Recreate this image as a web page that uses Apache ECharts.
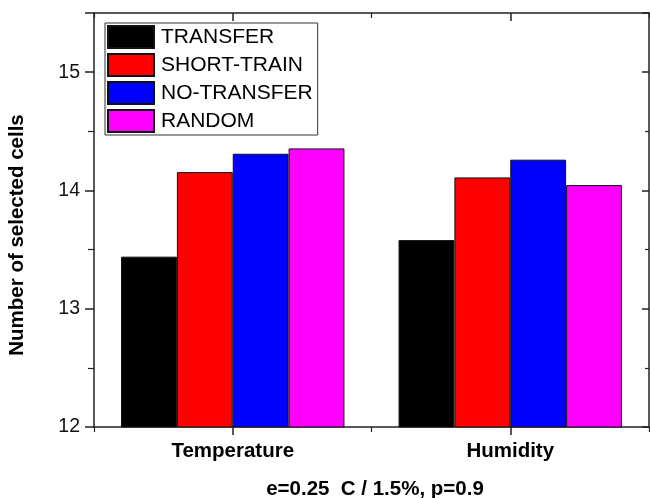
<!DOCTYPE html>
<html>
<head>
<meta charset="utf-8">
<script src="https://cdn.jsdelivr.net/npm/echarts@6/dist/echarts.min.js"></script>
<style>
html,body{margin:0;padding:0;background:#fff;}
#chart{width:650px;height:498px;}
</style>
</head>
<body>
<div id="chart"></div>
<script>
const categories = ['Temperature', 'Humidity'];
const seriesNames = ['TRANSFER', 'SHORT-TRAIN', 'NO-TRANSFER', 'RANDOM'];
const transfer = [13.44, 13.58];
const shortTrain = [14.155, 14.11];
const noTransfer = [14.31, 14.26];
const randomSel = [14.355, 14.045];
const seriesValues = [transfer, shortTrain, noTransfer, randomSel];
const seriesColors = ['#000000', '#ff0000', '#0000ff', '#ff00ff'];
const yMin = 12, yMax = 15.5, yInterval = 1;
const yTitle = 'Number of selected cells';
const xTitle = 'e=0.25  C / 1.5%, p=0.9';

const FONT = 'Liberation Sans, Arial, sans-serif';
const AX = '#222';

const chart = echarts.init(document.getElementById('chart'), null, {renderer: 'canvas'});

const series = seriesNames.map((n, i) => ({
  name: n,
  type: 'bar',
  xAxisIndex: 0,
  yAxisIndex: 0,
  data: seriesValues[i],
  barGap: '0%',
  barCategoryGap: '19.5%',
  itemStyle: {color: seriesColors[i], borderColor: '#111', borderWidth: 1},
  emphasis: {disabled: true},
  animation: false
}));

const baseX = {
  type: 'category',
  data: categories,
  axisLine: {show: true, lineStyle: {color: AX, width: 1.5}},
  splitLine: {show: false},
  axisLabel: {show: false}
};

const option = {
  backgroundColor: '#fff',
  animation: false,
  grid: {left: 94, right: 1, top: 13, bottom: 71, containLabel: false},
  legend: {
    orient: 'vertical',
    left: 105,
    top: 23,
    itemWidth: 46,
    itemHeight: 22,
    itemGap: 4,
    icon: 'rect',
    borderColor: '#333',
    borderWidth: 1,
    padding: [2, 5, 2, 2],
    backgroundColor: '#fff',
    textStyle: {fontFamily: FONT, fontSize: 21, color: '#000', padding: [0, 0, 0, 2]},
    data: seriesNames
  },
  xAxis: [
    Object.assign({}, baseX, {
      position: 'bottom',
      axisTick: {show: true, alignWithLabel: true, length: 8, inside: false, lineStyle: {color: AX, width: 1.5}},
      axisLabel: {show: true, fontFamily: FONT, fontWeight: 'bold', fontSize: 20.5, color: '#000', margin: 14}
    }),
    Object.assign({}, baseX, {
      position: 'bottom',
      axisLine: {show: false},
      axisTick: {show: true, alignWithLabel: false, length: 5, inside: false, lineStyle: {color: AX, width: 1.2}}
    }),
    Object.assign({}, baseX, {
      position: 'top',
      axisTick: {show: true, alignWithLabel: true, length: 8, inside: true, lineStyle: {color: AX, width: 1.5}}
    }),
    Object.assign({}, baseX, {
      position: 'top',
      axisLine: {show: false},
      axisTick: {show: true, alignWithLabel: false, length: 5, inside: true, lineStyle: {color: AX, width: 1.2}}
    })
  ],
  yAxis: [
    {
      type: 'value', position: 'left', min: yMin, max: yMax, interval: yInterval,
      axisLine: {show: true, lineStyle: {color: AX, width: 1.5}},
      axisTick: {show: true, inside: false, length: 9, lineStyle: {color: AX, width: 1.5}},
      minorTick: {show: true, splitNumber: 2, length: 6, lineStyle: {color: AX, width: 1.2}},
      splitLine: {show: false},
      axisLabel: {fontFamily: FONT, fontSize: 19.5, color: '#111', margin: 14, showMaxLabel: false,
        formatter: v => (Number.isInteger(v) ? String(v) : '')}
    },
    {
      type: 'value', position: 'right', min: yMin, max: yMax, interval: yInterval,
      axisLine: {show: true, lineStyle: {color: AX, width: 1.5}},
      axisTick: {show: true, inside: true, length: 7, lineStyle: {color: AX, width: 1.5}},
      minorTick: {show: true, splitNumber: 2, length: 4, lineStyle: {color: AX, width: 1.2}},
      splitLine: {show: false},
      axisLabel: {show: false}
    }
  ],
  graphic: [
    {
      type: 'text', x: 17, y: 235, rotation: Math.PI / 2,
      style: {text: yTitle, fontFamily: FONT, fontWeight: 'bold', fontSize: 20.5, fill: '#000',
        textAlign: 'center', textVerticalAlign: 'middle'}
    },
    {
      type: 'text', x: 375, y: 489,
      style: {text: xTitle, fontFamily: FONT, fontWeight: 'bold', fontSize: 20.5, fill: '#000',
        textAlign: 'center', textVerticalAlign: 'middle'}
    }
  ],
  series: series
};

chart.setOption(option);
</script>
</body>
</html>
